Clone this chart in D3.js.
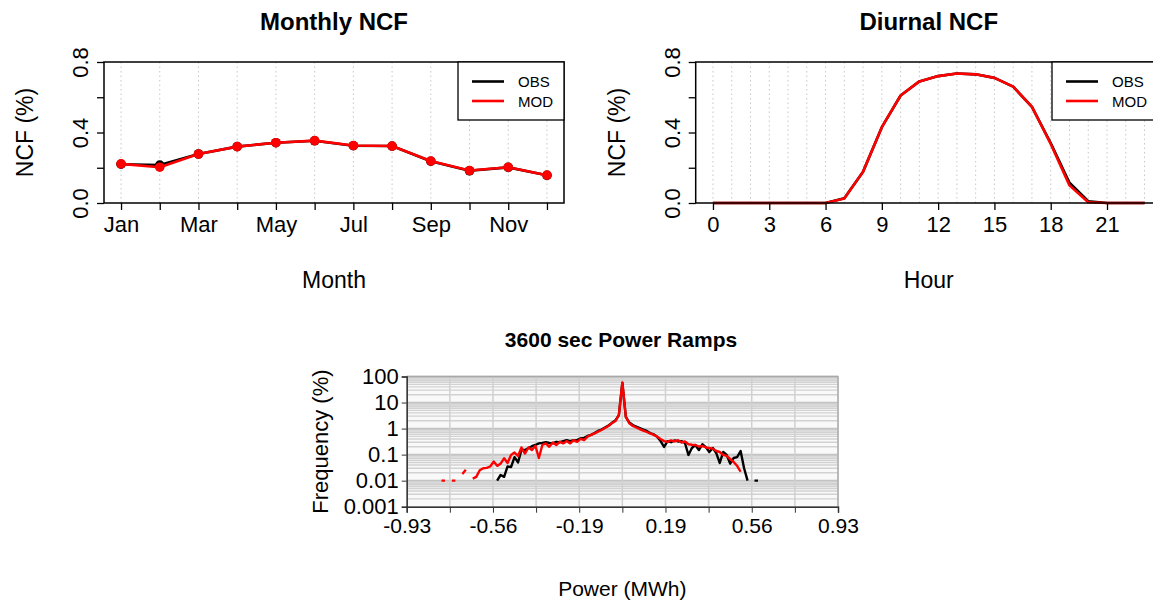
<!DOCTYPE html>
<html><head><meta charset="utf-8">
<script src="https://cdn.jsdelivr.net/npm/d3@7"></script>
<style>body{margin:0;background:#fff;} svg{display:block;font-family:"Liberation Sans",Arial,Helvetica,sans-serif;}</style>
</head><body><svg id="c" width="1153" height="603"></svg>
<script>
// ---------- data ----------
const months = ["Jan","Feb","Mar","Apr","May","Jun","Jul","Aug","Sep","Oct","Nov","Dec"];
const monthLabels = ["Jan","","Mar","","May","","Jul","","Sep","","Nov",""];
const monthlyObs = [0.220,0.215,0.278,0.320,0.342,0.353,0.325,0.323,0.237,0.183,0.202,0.157];
const monthlyMod = [0.222,0.203,0.278,0.320,0.342,0.354,0.326,0.323,0.238,0.184,0.203,0.158];

const hours = [0,1,2,3,4,5,6,7,8,9,10,11,12,13,14,15,16,17,18,19,20,21,22,23];
const hourTicks = [0,3,6,9,12,15,18,21];
const diurnalObs = [0,0,0,0,0,0,0,0.027,0.178,0.43,0.61,0.69,0.72,0.735,0.73,0.71,0.66,0.545,0.34,0.115,0.01,0,0,0];
const diurnalMod = [0,0,0,0,0,0,0,0.025,0.178,0.43,0.61,0.69,0.72,0.735,0.73,0.71,0.66,0.545,0.335,0.10,0.004,0,0,0];

const ncfTicks = [0,0.2,0.4,0.6,0.8];
const ncfTickLabels = ["0.0","","0.4","","0.8"];

const rampStart = -0.78, rampStep = 0.015;
const rampMod = [0.01,0.01,null,0.01,0.01,null,0.018,0.026,null,0.012,
  0.014,0.025,0.03,0.031,0.035,0.054,0.037,0.045,0.072,0.048,
  0.097,0.12,0.089,0.188,0.11,0.188,0.15,0.22,0.074,0.234,
  0.27,0.20,0.29,0.234,0.31,0.27,0.33,0.27,0.36,0.31,
  0.40,0.36,0.49,0.57,0.65,0.76,0.88,1.05,1.26,1.6,
  1.95,3.3,59,2.8,1.6,1.26,1.1,0.96,0.84,0.74,
  0.65,0.57,0.49,0.40,0.33,0.31,0.35,0.32,0.36,0.29,
  0.32,0.25,0.24,0.234,0.205,0.215,0.188,0.18,0.17,0.138,
  0.126,0.097,0.089,0.068,0.052,0.037,0.022,null,null,null,
  null,null];
const rampObs = [null,null,null,null,null,null,null,null,null,null,
  null,null,null,null,null,null,0.01,0.0165,0.014,0.035,
  0.033,0.08,0.05,0.15,0.15,0.18,0.21,0.234,0.27,0.28,
  0.30,0.28,0.27,0.31,0.30,0.33,0.36,0.33,0.36,0.36,
  0.42,0.44,0.52,0.57,0.67,0.81,0.92,1.1,1.32,1.66,
  2.05,3.3,57,2.8,1.7,1.37,1.2,1.05,0.92,0.81,
  0.67,0.6,0.49,0.33,0.196,0.33,0.30,0.35,0.32,0.33,
  0.28,0.097,0.18,0.234,0.15,0.25,0.195,0.126,0.18,0.115,
  0.048,0.126,0.097,0.045,0.074,0.08,0.138,0.03,0.01,null,
  0.01,0.01];
const rampXTicks = [-0.93,-0.744,-0.558,-0.372,-0.186,0,0.186,0.372,0.558,0.744,0.93];
const rampXTickLabels = ["-0.93","","-0.56","","-0.19","","0.19","","0.56","","0.93"];
const rampYTicks = [0.001,0.01,0.1,1,10,100];
const rampYTickLabels = ["0.001","0.01","0.1","1","10","100"];

// ---------- drawing ----------
const svg = d3.select("#c");
svg.append("rect").attr("width",1153).attr("height",603).attr("fill","#fff");

function ncfPanel(cfg){
  const g = svg.append("g");
  const x = d3.scaleLinear().domain(cfg.xdom).range([cfg.x0,cfg.x1]);
  const y = d3.scaleLinear().domain([0,0.8]).range([203,62]);
  g.selectAll("line.grid").data(cfg.xs).enter().append("line")
    .attr("x1",d=>x(d)).attr("x2",d=>x(d)).attr("y1",203).attr("y2",62)
    .attr("stroke","#c8c8c8").attr("stroke-width",1).attr("stroke-dasharray","1.5,3");
  const line = d3.line().x((d,i)=>x(cfg.xs[i])).y(d=>y(d));
  [[cfg.obs,"#000"],[cfg.mod,"#ff0000"]].forEach(([s,c])=>{
    g.append("path").attr("d",line(s)).attr("fill","none").attr("stroke",c).attr("stroke-width",2.6).attr("stroke-linejoin","round");
    if(cfg.points){
      g.selectAll(null).data(s).enter().append("circle")
        .attr("cx",(d,i)=>x(cfg.xs[i])).attr("cy",d=>y(d)).attr("r",4.8).attr("fill",c);
    }
  });
  g.append("rect").attr("x",cfg.x0).attr("y",62).attr("width",cfg.x1-cfg.x0).attr("height",141)
    .attr("fill","none").attr("stroke","#000").attr("stroke-width",1.5);
  const ya = g.append("g").attr("transform",`translate(${cfg.x0},0)`)
    .call(d3.axisLeft(y).tickValues(ncfTicks).tickFormat((d,i)=>ncfTickLabels[i]).tickSize(7));
  ya.select(".domain").remove();
  ya.attr("font-size",22).attr("font-family",null);
  ya.selectAll("line").attr("stroke","#000").attr("stroke-width",1.3);
  ya.selectAll("text").attr("transform","rotate(-90)").attr("x",0).attr("y",-16).attr("dy",null)
    .attr("text-anchor","middle").attr("fill","#000");
  const xa = g.append("g").attr("transform","translate(0,203)")
    .call(d3.axisBottom(x).tickValues(cfg.xTicks).tickFormat((d,i)=>cfg.xLabels[i]).tickSize(7).tickPadding(6));
  xa.select(".domain").remove();
  xa.attr("font-size",22).attr("font-family",null);
  xa.selectAll("line").attr("stroke","#000").attr("stroke-width",1.3);
  xa.selectAll("text").attr("fill","#000");
  const cx = (cfg.x0+cfg.x1)/2;
  g.append("text").attr("x",cx).attr("y",30).attr("text-anchor","middle")
    .attr("font-weight","bold").attr("font-size",24).text(cfg.title);
  g.append("text").attr("x",cx).attr("y",288).attr("text-anchor","middle")
    .attr("font-size",23).text(cfg.xTitle);
  g.append("text").attr("transform",`translate(${cfg.x0-71},132.5) rotate(-90)`)
    .attr("text-anchor","middle").attr("font-size",23).text("NCF (%)");
  const L = cfg.legend;
  g.append("rect").attr("x",L.x).attr("y",62).attr("width",L.w).attr("height",58)
    .attr("fill","#fff").attr("stroke","#000").attr("stroke-width",1.3);
  [["OBS","#000",81.5],["MOD","#ff0000",101]].forEach(([t,c,yy])=>{
    g.append("line").attr("x1",L.x+14).attr("x2",L.x+46).attr("y1",yy).attr("y2",yy)
      .attr("stroke",c).attr("stroke-width",2.6);
    g.append("text").attr("x",L.x+60).attr("y",yy+5.5).attr("font-size",15).text(t);
  });
}

ncfPanel({xdom:[0.56,12.44], x0:104, x1:564, xs:d3.range(1,13), obs:monthlyObs, mod:monthlyMod, points:true,
  xTicks:d3.range(1,13), xLabels:monthLabels, title:"Monthly NCF", xTitle:"Month", legend:{x:458,w:106}});
ncfPanel({xdom:[-0.92,23.92], x0:695.7, x1:1161.8, xs:hours, obs:diurnalObs, mod:diurnalMod, points:false,
  xTicks:hourTicks, xLabels:hourTicks.map(String), title:"Diurnal NCF", xTitle:"Hour", legend:{x:1052,w:120}});

// ---------- ramps panel ----------
(function(){
  const g = svg.append("g");
  const X0=406.7, X1=838, Y0=506.7, Y1=376.5;
  const x = d3.scaleLinear().domain([-0.93,0.93]).range([X0,X1]);
  const y = d3.scaleLog().domain([0.001,100]).range([Y0,Y1]);
  g.append("rect").attr("x",X0).attr("y",Y1).attr("width",X1-X0).attr("height",Y0-Y1).attr("fill","#f9f9f9");
  const minor = [];
  [0.001,0.01,0.1,1,10].forEach(b=>{ for(let m=2;m<=9;m++) minor.push(b*m); });
  g.selectAll("line.minor").data(minor).enter().append("line")
    .attr("x1",X0).attr("x2",X1).attr("y1",d=>y(d)).attr("y2",d=>y(d))
    .attr("stroke","#d2d2d2").attr("stroke-width",1.4);
  g.selectAll("line.major").data(rampYTicks).enter().append("line")
    .attr("x1",X0).attr("x2",X1).attr("y1",d=>y(d)).attr("y2",d=>y(d))
    .attr("stroke","#c4c4c4").attr("stroke-width",1.6);
  g.selectAll("line.vg").data(rampXTicks).enter().append("line")
    .attr("x1",d=>x(d)).attr("x2",d=>x(d)).attr("y1",Y1).attr("y2",Y0)
    .attr("stroke","#d0d0d0").attr("stroke-width",1.5);
  g.append("path").attr("d",`M${X0},${Y1}H${X1}V${Y0}`).attr("fill","none").attr("stroke","#a8a8a8").attr("stroke-width",1.3);
  const bins = rampMod.map((d,i)=>+(rampStart+rampStep*i).toFixed(3));
  const line = d3.line().defined(d=>d[1]!=null).x(d=>x(d[0])).y(d=>y(d[1]));
  [[rampObs,"#000"],[rampMod,"#ff0000"]].forEach(([s,c])=>{
    g.append("path").attr("d",line(s.map((v,i)=>[bins[i],v]))).attr("fill","none")
      .attr("stroke",c).attr("stroke-width",2.4).attr("stroke-linejoin","round");
  });
  const ya = g.append("g").attr("transform",`translate(${X0},0)`)
    .call(d3.axisLeft(y).tickValues(rampYTicks).tickFormat((d,i)=>rampYTickLabels[i]).tickSize(5).tickPadding(3));
  ya.attr("font-size",22).attr("font-family",null);
  ya.select(".domain").attr("stroke","#333").attr("stroke-width",1.5);
  ya.selectAll("line").attr("stroke","#333");
  ya.selectAll("text").attr("fill","#000");
  const xa = g.append("g").attr("transform",`translate(0,${Y0})`)
    .call(d3.axisBottom(x).tickValues(rampXTicks).tickFormat((d,i)=>rampXTickLabels[i]).tickSize(6).tickPadding(5));
  xa.attr("font-size",21).attr("font-family",null);
  xa.select(".domain").attr("stroke","#333").attr("stroke-width",1.5);
  xa.selectAll("line").attr("stroke","#333");
  xa.selectAll("text").attr("fill","#000");
  const cx=(X0+X1)/2;
  g.append("text").attr("x",621).attr("y",347).attr("text-anchor","middle").attr("font-weight","bold")
    .attr("font-size",21).text("3600 sec Power Ramps");
  g.append("text").attr("x",cx).attr("y",596).attr("text-anchor","middle").attr("font-size",21).text("Power (MWh)");
  g.append("text").attr("transform",`translate(328,${(Y0+Y1)/2}) rotate(-90)`).attr("text-anchor","middle")
    .attr("font-size",22).text("Frequency (%)");
})();
</script></body></html>
